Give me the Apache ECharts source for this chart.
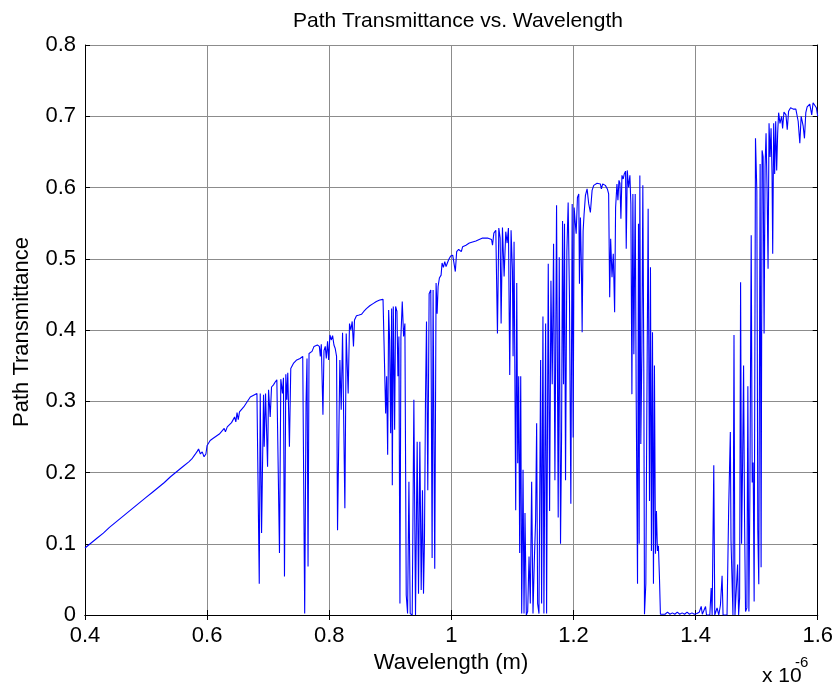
<!DOCTYPE html>
<html>
<head>
<meta charset="utf-8">
<title>Path Transmittance vs. Wavelength</title>
<script src="https://cdn.jsdelivr.net/npm/echarts@6/dist/echarts.min.js"></script>
<style>
  html, body { margin: 0; padding: 0; background: #ffffff; }
  #chart { width: 836px; height: 686px; }
</style>
</head>
<body>
<div id="chart"></div>
<script>
// Wavelength in micrometres (axis is labelled in units of 1e-6 m), transmittance 0..1
const smoothRise = [
  [0.400,0.094],[0.410,0.101],[0.420,0.108],[0.430,0.115],[0.440,0.123],[0.450,0.130],
  [0.460,0.137],[0.470,0.144],[0.480,0.151],[0.490,0.158],[0.500,0.165],[0.510,0.172],
  [0.520,0.179],[0.530,0.186],[0.540,0.194],[0.550,0.201],[0.560,0.208],[0.570,0.215],
  [0.575,0.219],[0.580,0.225],[0.584,0.230],[0.586,0.233],[0.589,0.226],[0.592,0.229],
  [0.595,0.222],[0.598,0.226],[0.600,0.238],[0.605,0.245],[0.610,0.248],[0.620,0.254],
  [0.628,0.262],[0.630,0.257],[0.633,0.264],[0.640,0.270],[0.645,0.278],[0.647,0.271],
  [0.649,0.284],[0.651,0.274],[0.653,0.285],[0.656,0.284],[0.660,0.292],[0.6707,0.306],
  [0.6816,0.311]
];

const oxygenBand = [
  [0.6843,0.310],[0.6854,0.044],[0.6870,0.311],[0.6892,0.115],[0.6908,0.115],[0.6924,0.309],
  [0.6935,0.236],[0.6957,0.311],[0.6973,0.312],[0.6990,0.208],[0.7006,0.316],[0.7033,0.278],
  [0.7055,0.320],[0.7087,0.323],[0.7115,0.327],[0.7142,0.330],[0.7165,0.330],[0.7185,0.087],
  [0.7207,0.331],[0.7234,0.311],[0.7250,0.333],[0.7267,0.054],[0.7289,0.338],[0.7305,0.302],
  [0.7321,0.340],[0.7348,0.236],[0.7370,0.346],[0.7413,0.353],[0.7468,0.358],[0.7522,0.360],
  [0.7566,0.363],[0.7582,0.362],[0.7598,0.002],[0.7620,0.297],[0.7636,0.360],[0.7653,0.068],
  [0.7669,0.367],[0.7696,0.365],[0.7718,0.370],[0.7751,0.377],[0.7805,0.379],[0.7838,0.377],
  [0.7854,0.363],[0.7870,0.380],[0.7897,0.281],[0.7914,0.371],[0.7935,0.377],[0.7952,0.360],
  [0.7973,0.384],[0.7990,0.358],[0.8011,0.393],[0.8033,0.386],[0.8055,0.392],[0.8077,0.379],
  [0.8098,0.374],[0.8120,0.363],[0.8136,0.119],[0.8158,0.119],[0.8174,0.358],[0.8196,0.288],
  [0.8218,0.396],[0.8240,0.395],[0.8256,0.150],[0.8278,0.395],[0.8294,0.393],[0.8310,0.311],
  [0.8332,0.409],[0.8354,0.400],[0.8376,0.412],[0.8397,0.377],[0.8414,0.414],[0.8446,0.420],
  [0.8490,0.421],[0.8528,0.422],[0.8566,0.426],[0.8609,0.430],[0.8664,0.434],[0.8718,0.437],
  [0.8772,0.440],[0.8827,0.442],[0.8881,0.443],[0.8908,0.443]
];

const waterBand094 = [
  [0.8924,0.283],[0.8940,0.335],[0.8957,0.225],[0.8973,0.428],[0.8989,0.386],[0.9006,0.255],
  [0.9022,0.430],[0.9033,0.182],[0.9049,0.433],[0.9071,0.260],[0.9087,0.433],[0.9109,0.426],
  [0.9125,0.335],[0.9141,0.391],[0.9158,0.016],[0.9174,0.391],[0.9196,0.440],[0.9218,0.391],
  [0.9239,0.409],[0.9261,0.028],[0.9283,0.002],[0.9305,0.187],[0.9326,0.002],[0.9359,0.000],
  [0.9386,0.302],[0.9413,0.000],[0.9440,0.243],[0.9462,0.030],[0.9484,0.243],[0.9506,0.035],
  [0.9527,0.175],[0.9544,0.030],[0.9560,0.108],[0.9576,0.299],[0.9593,0.412],[0.9614,0.175],
  [0.9636,0.451],[0.9663,0.456],[0.9685,0.080],[0.9701,0.456],[0.9728,0.065],[0.9750,0.466],
  [0.9767,0.423],[0.9783,0.461],[0.9804,0.473],[0.9832,0.477],[0.9848,0.494],[0.9870,0.488],
  [0.9892,0.496],[0.9913,0.489],[0.9935,0.494],[0.9957,0.499],[0.9989,0.504],[1.0022,0.505],
  [1.0049,0.505],[1.0065,0.482],[1.0087,0.510],[1.0120,0.513],[1.0141,0.515],[1.0163,0.510],
  [1.0185,0.517],[1.0239,0.519],[1.0294,0.522],[1.0402,0.525],[1.0511,0.529],[1.0592,0.529],
  [1.0658,0.527],[1.0674,0.519],[1.0696,0.536],[1.0728,0.540]
];

const waterBand113 = [
  [1.0755,0.395],[1.0777,0.543],[1.0799,0.529],[1.0815,0.409],[1.0837,0.544],[1.0864,0.475],
  [1.0891,0.538],[1.0913,0.522],[1.0935,0.543],[1.0956,0.337],[1.0978,0.540],[1.1000,0.484],
  [1.1011,0.363],[1.1027,0.524],[1.1043,0.522],[1.1054,0.147],[1.1071,0.466],[1.1087,0.213],
  [1.1103,0.335],[1.1119,0.087],[1.1136,0.335],[1.1152,0.002],[1.1174,0.204],[1.1190,0.002],
  [1.1206,0.143],[1.1228,0.000],[1.1250,0.005],[1.1272,0.082],[1.1293,0.016],[1.1315,0.187],
  [1.1337,0.002],[1.1359,0.077],[1.1380,0.133],[1.1397,0.269],[1.1413,0.016],[1.1435,0.002],
  [1.1462,0.358],[1.1478,0.016],[1.1500,0.419],[1.1516,0.002],[1.1544,0.409],[1.1560,0.002],
  [1.1587,0.493],[1.1609,0.146],[1.1631,0.469],[1.1652,0.324],[1.1674,0.521],[1.1696,0.189],
  [1.1723,0.575],[1.1750,0.137],[1.1767,0.502],[1.1788,0.100],[1.1805,0.249],[1.1821,0.553],
  [1.1837,0.324],[1.1853,0.549],[1.1870,0.189],[1.1892,0.511],[1.1913,0.579],[1.1935,0.441],
  [1.1957,0.156],[1.1979,0.577],[1.1995,0.249],[1.2011,0.572],[1.2027,0.553],[1.2044,0.535],
  [1.2065,0.586],[1.2087,0.591],[1.2098,0.465],[1.2114,0.558],[1.2131,0.483],[1.2142,0.397],
  [1.2158,0.539],[1.2174,0.563],[1.2196,0.589],[1.2223,0.598],[1.2250,0.577],[1.2277,0.565],
  [1.2305,0.596],[1.2332,0.603],[1.2386,0.606],[1.2440,0.605],[1.2457,0.598],[1.2479,0.605],
  [1.2522,0.603],[1.2555,0.598],[1.2576,0.591]
];

const waterBand138 = [
  [1.2593,0.446],[1.2609,0.528],[1.2631,0.474],[1.2652,0.507],[1.2674,0.425],[1.2690,0.572],
  [1.2712,0.605],[1.2728,0.582],[1.2745,0.610],[1.2761,0.606],[1.2777,0.556],[1.2794,0.617],
  [1.2815,0.612],[1.2832,0.619],[1.2853,0.623],[1.2864,0.514],[1.2881,0.624],[1.2902,0.600],
  [1.2924,0.617],[1.2940,0.577],[1.2957,0.310],[1.2973,0.591],[1.2989,0.366],[1.3011,0.591],
  [1.3027,0.310],[1.3049,0.044],[1.3065,0.549],[1.3076,0.100],[1.3087,0.617],[1.3103,0.240],
  [1.3120,0.371],[1.3136,0.603],[1.3152,0.343],[1.3163,0.001],[1.3185,0.044],[1.3207,0.362],
  [1.3223,0.570],[1.3245,0.160],[1.3261,0.488],[1.3277,0.090],[1.3294,0.397],[1.3310,0.044],
  [1.3326,0.350],[1.3343,0.086],[1.3359,0.146],[1.3375,0.090],[1.3391,0.097],[1.3408,0.053],
  [1.3424,0.001],[1.3450,0.003],[1.3500,0.001],[1.3540,0.004],[1.3580,0.001],[1.3620,0.003],
  [1.3660,0.001],[1.3700,0.004],[1.3740,0.001],[1.3780,0.003],[1.3820,0.001],[1.3860,0.004],
  [1.3900,0.001],[1.3940,0.003],[1.3980,0.001],[1.4020,0.002],[1.4060,0.004],[1.4092,0.012],
  [1.4110,0.001],[1.4140,0.003],[1.4163,0.012],[1.4179,0.000],[1.4233,0.000],[1.4255,0.038],
  [1.4271,0.000],[1.4298,0.210],[1.4314,0.000],[1.4352,0.010],[1.4380,0.000],[1.4407,0.014],
  [1.4434,0.055],[1.4450,0.000],[1.4515,0.000],[1.4542,0.150],[1.4569,0.257],[1.4580,0.105],
  [1.4596,0.052],[1.4612,0.000],[1.4629,0.393],[1.4645,0.000],[1.4670,0.000],[1.4688,0.071],
  [1.4705,0.000],[1.4721,0.024],[1.4737,0.467],[1.4753,0.100],[1.4770,0.214],[1.4786,0.350],
  [1.4802,0.133],[1.4818,0.005],[1.4840,0.010],[1.4856,0.321],[1.4873,0.005],[1.4889,0.167],
  [1.4911,0.533],[1.4927,0.186],[1.4943,0.214],[1.4959,0.019]
];

const nearInfraredTail = [
  [1.4981,0.669],[1.5003,0.595],[1.5019,0.119],[1.5035,0.043],[1.5057,0.633],[1.5073,0.067],
  [1.5089,0.652],[1.5106,0.643],[1.5122,0.395],[1.5138,0.629],[1.5154,0.676],[1.5171,0.595],
  [1.5187,0.486],[1.5203,0.690],[1.5220,0.643],[1.5236,0.683],[1.5252,0.619],[1.5263,0.507],
  [1.5279,0.690],[1.5295,0.619],[1.5312,0.693],[1.5328,0.624],[1.5344,0.676],[1.5360,0.705],
  [1.5382,0.690],[1.5409,0.700],[1.5425,0.683],[1.5447,0.706],[1.5480,0.702],[1.5501,0.681],
  [1.5523,0.707],[1.5556,0.712],[1.5599,0.710],[1.5642,0.710],[1.5680,0.693],[1.5707,0.662],
  [1.5729,0.700],[1.5762,0.686],[1.5783,0.669],[1.5805,0.705],[1.5827,0.713],[1.5870,0.717],
  [1.5902,0.702],[1.5924,0.719],[1.5951,0.721],[1.5978,0.712],[1.6000,0.700]
];

const xTickLabels = ['0.4', '0.6', '0.8', '1', '1.2', '1.4', '1.6'];
const yTickLabels = ['0', '0.1', '0.2', '0.3', '0.4', '0.5', '0.6', '0.7', '0.8'];

const spectrum = [].concat(smoothRise, oxygenBand, waterBand094, waterBand113, waterBand138, nearInfraredTail);

const FONT = "'Liberation Sans', Arial, Helvetica, sans-serif";
const tickStyle = { show: true, inside: true, length: 5, lineStyle: { color: '#000', width: 1 } };
const frameLine = { show: true, lineStyle: { color: '#000', width: 1 } };

const chart = echarts.init(document.getElementById('chart'), null, { renderer: 'canvas' });

chart.setOption({
  animation: false,
  backgroundColor: '#ffffff',
  textStyle: { fontFamily: FONT },
  grid: { left: 85, right: 17, top: 45, bottom: 71, containLabel: false },
  xAxis: [
    {
      type: 'value', position: 'bottom', min: 0.4, max: 1.6, interval: 0.2,
      axisLine: frameLine, axisTick: tickStyle,
      axisLabel: {
        show: true, margin: 10, color: '#000', fontSize: 22, fontFamily: FONT,
        formatter: v => xTickLabels[Math.round((v - 0.4) / 0.2)] ?? ''
      },
      splitLine: { show: true, lineStyle: { color: '#8c8c8c', width: 1 } }
    },
    {
      type: 'value', position: 'top', min: 0.4, max: 1.6, interval: 0.2,
      axisLine: frameLine, axisTick: tickStyle, axisLabel: { show: false }, splitLine: { show: false }
    }
  ],
  yAxis: [
    {
      type: 'value', position: 'left', min: 0, max: 0.8, interval: 0.1,
      axisLine: frameLine, axisTick: tickStyle,
      axisLabel: {
        show: true, margin: 9, color: '#000', fontSize: 22, fontFamily: FONT,
        formatter: v => yTickLabels[Math.round(v / 0.1)] ?? ''
      },
      splitLine: { show: true, lineStyle: { color: '#8c8c8c', width: 1 } }
    },
    {
      type: 'value', position: 'right', min: 0, max: 0.8, interval: 0.1,
      axisLine: frameLine, axisTick: tickStyle, axisLabel: { show: false }, splitLine: { show: false }
    }
  ],
  series: [{
    name: 'Path Transmittance',
    type: 'line',
    xAxisIndex: 0,
    yAxisIndex: 0,
    data: spectrum,
    showSymbol: false,
    symbol: 'none',
    clip: true,
    lineStyle: { color: '#0000ff', width: 1.1 },
    z: 3
  }],
  graphic: [
    {
      type: 'text', x: 458, y: 21,
      style: { text: 'Path Transmittance vs. Wavelength', font: '21px ' + FONT, fill: '#000', align: 'center', verticalAlign: 'middle' }
    },
    {
      type: 'text', x: 451, y: 663,
      style: { text: 'Wavelength (m)', font: '22px ' + FONT, fill: '#000', align: 'center', verticalAlign: 'middle' }
    },
    {
      type: 'text', x: 22, y: 332, rotation: Math.PI / 2,
      style: { text: 'Path Transmittance', font: '22px ' + FONT, fill: '#000', align: 'center', verticalAlign: 'middle' }
    },
    {
      type: 'text', x: 762, y: 676,
      style: { text: 'x 10', font: '21px ' + FONT, fill: '#000', align: 'left', verticalAlign: 'middle' }
    },
    {
      type: 'text', x: 795, y: 663,
      style: { text: '-6', font: '15px ' + FONT, fill: '#000', align: 'left', verticalAlign: 'middle' }
    }
  ]
});
</script>
</body>
</html>
